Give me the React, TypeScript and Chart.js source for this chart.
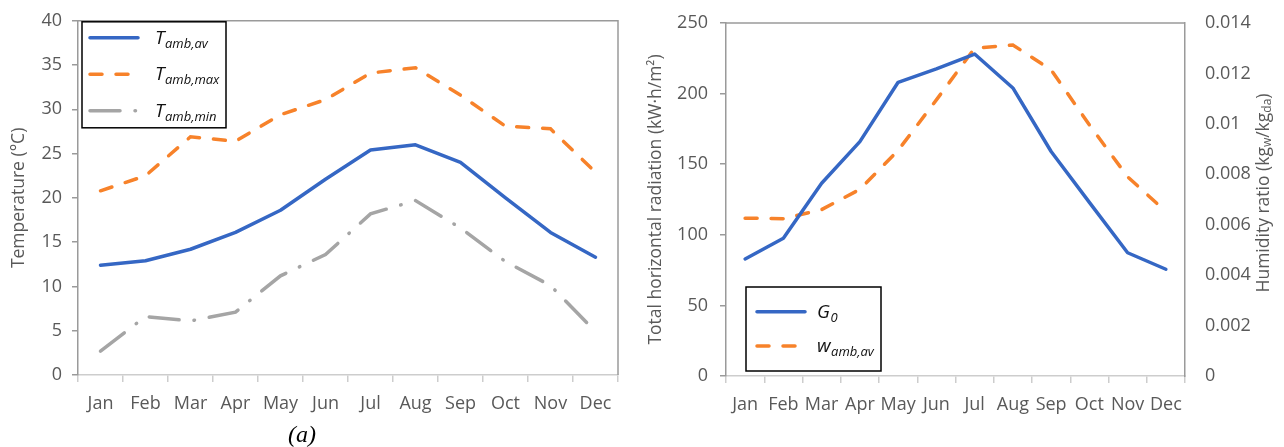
import React, { useEffect, useRef } from 'react';
import { Chart, registerables } from 'chart.js';

Chart.register(...registerables);

const FONT = '"Open Sans", "Liberation Sans", sans-serif';
const TEXT = '#595959';
const AXIS_DARK = '#9a9a9a';
const AXIS_LIGHT = '#cdcdcd';
const BLUE = '#3567c4';
const ORANGE = '#f7822a';
const GRAY = '#a5a5a5';

// Monthly climate data
const months = ['Jan', 'Feb', 'Mar', 'Apr', 'May', 'Jun', 'Jul', 'Aug', 'Sep', 'Oct', 'Nov', 'Dec'];
const tempAvg = [12.4, 12.9, 14.2, 16.1, 18.6, 22.1, 25.4, 26.0, 24.0, 20.0, 16.1, 13.3];
const tempMax = [20.8, 22.5, 26.9, 26.4, 29.4, 31.1, 34.1, 34.7, 31.6, 28.1, 27.8, 22.9];
const tempMin = [2.7, 6.6, 6.1, 7.1, 11.2, 13.6, 18.2, 19.7, 16.6, 12.8, 10.1, 4.9];
const radiation = [82.9, 97.5, 136.5, 166, 208, 217.5, 228, 204, 159, 123, 87.3, 75.6];
const humidity = [0.00626, 0.00624, 0.0066, 0.0074, 0.00895, 0.01095, 0.013, 0.01313, 0.01214, 0.00996, 0.0079, 0.00652];

// Axis tick values
const tempTicks = { min: 0, max: 40, step: 5 };
const radTicks = { min: 0, max: 250, step: 50 };
const humTicks = { min: 0, max: 0.014, step: 0.002 };

// Top and right edges of the plot area
const plotFrame = {
  id: 'plotFrame',
  afterDraw(chart: any, _args: any, opts: any) {
    const { ctx, chartArea: a } = chart;
    ctx.save();
    ctx.strokeStyle = opts.color || AXIS_DARK;
    ctx.lineWidth = opts.width || 1.5;
    ctx.beginPath();
    ctx.moveTo(a.left, a.top);
    ctx.lineTo(a.right, a.top);
    if (opts.right !== false) ctx.lineTo(a.right, a.bottom);
    ctx.stroke();
    ctx.restore();
  },
};

// Boxed legend with italic symbols and subscripts
const legendBox = {
  id: 'legendBox',
  afterDraw(chart: any, _args: any, opts: any) {
    if (!opts.items) return;
    const { ctx, chartArea: a } = chart;
    const x = a.left + opts.dx;
    const y = a.top + opts.dy;
    ctx.save();
    ctx.fillStyle = '#fff';
    ctx.fillRect(x, y, opts.w, opts.h);
    ctx.strokeStyle = '#000';
    ctx.lineWidth = 1.5;
    ctx.strokeRect(x, y, opts.w, opts.h);
    opts.items.forEach((it: any, i: number) => {
      const ds = chart.data.datasets[it.dataset];
      const cy = y + opts.firstRow + i * opts.rowGap;
      ctx.strokeStyle = ds.borderColor;
      ctx.lineWidth = ds.borderWidth;
      ctx.lineCap = ds.borderCapStyle || 'butt';
      ctx.setLineDash(ds.borderDash || []);
      ctx.beginPath();
      ctx.moveTo(x + opts.lineStart, cy);
      ctx.lineTo(x + opts.lineStart + opts.lineLen, cy);
      ctx.stroke();
      ctx.setLineDash([]);
      ctx.fillStyle = '#111';
      ctx.textBaseline = 'alphabetic';
      ctx.textAlign = 'left';
      const tx = x + opts.textStart;
      const by = cy + opts.baseline;
      ctx.font = `italic ${opts.size}px ${FONT}`;
      ctx.fillText(it.main, tx, by);
      const mw = ctx.measureText(it.main).width;
      ctx.font = `italic ${opts.subSize}px ${FONT}`;
      ctx.fillText(it.sub, tx + mw + 0.5, by + opts.subDrop);
    });
    ctx.restore();
  },
};

// Rotated right-hand axis title with subscripts
const sideTitle = {
  id: 'sideTitle',
  afterDraw(chart: any, _args: any, opts: any) {
    if (!opts.parts) return;
    const { ctx, chartArea: a } = chart;
    ctx.save();
    ctx.translate(a.right + opts.dx, (a.top + a.bottom) / 2 + opts.dy);
    ctx.rotate(-Math.PI / 2);
    ctx.fillStyle = opts.color;
    ctx.textBaseline = 'middle';
    ctx.textAlign = 'left';
    const fontOf = (p: any) => `${p.sub ? opts.subSize : opts.size}px ${FONT}`;
    const widths = opts.parts.map((p: any) => {
      ctx.font = fontOf(p);
      return ctx.measureText(p.text).width;
    });
    const total = widths.reduce((s: number, w: number) => s + w, 0);
    let px = -total / 2;
    opts.parts.forEach((p: any, i: number) => {
      ctx.font = fontOf(p);
      ctx.fillText(p.text, px, p.sub ? opts.subDrop : 0);
      px += widths[i];
    });
    ctx.restore();
  },
};

const tickFont = { family: FONT, size: 18 };
const titleFont = { family: FONT, size: 17.5 };

function xAxis(height: number) {
  return {
    type: 'category' as const,
    offset: true,
    grid: { offset: true, drawOnChartArea: false, tickLength: 7, color: AXIS_LIGHT, lineWidth: 1.5 },
    border: { color: AXIS_LIGHT, width: 1.5 },
    ticks: { color: TEXT, font: tickFont, padding: 11, maxRotation: 0, autoSkip: false },
    afterFit: (s: any) => {
      s.height = height;
    },
  };
}

function TemperatureChart() {
  const ref = useRef<HTMLCanvasElement>(null);
  useEffect(() => {
    if (!ref.current) return;
    const chart = new Chart(ref.current, {
      type: 'line',
      data: {
        labels: months,
        datasets: [
          {
            label: 'T amb,av',
            data: tempAvg,
            borderColor: BLUE,
            borderWidth: 3.5,
            borderCapStyle: 'round',
            borderJoinStyle: 'round',
            tension: 0,
            pointRadius: 0,
          },
          {
            label: 'T amb,max',
            data: tempMax,
            borderColor: ORANGE,
            borderWidth: 3.5,
            borderDash: [12, 14],
            borderCapStyle: 'round',
            tension: 0,
            pointRadius: 0,
          },
          {
            label: 'T amb,min',
            data: tempMin,
            borderColor: GRAY,
            borderWidth: 3.5,
            borderDash: [30, 15, 0.5, 15],
            borderCapStyle: 'round',
            tension: 0,
            pointRadius: 0,
          },
        ],
      },
      options: {
        animation: false,
        responsive: false,
        devicePixelRatio: 1,
        layout: { padding: { top: 20, right: 22, left: 0, bottom: 0 } },
        scales: {
          x: xAxis(72),
          y: {
            min: tempTicks.min,
            max: tempTicks.max,
            ticks: { stepSize: tempTicks.step, color: TEXT, font: tickFont, padding: 10 },
            grid: { drawOnChartArea: false, tickLength: 6, color: AXIS_DARK, lineWidth: 1.5 },
            border: { color: AXIS_DARK, width: 1.5 },
            title: {
              display: true,
              text: 'Temperature (°C)',
              color: TEXT,
              font: titleFont,
              padding: { top: 9, bottom: 0 },
            },
            afterFit: (s: any) => {
              s.width = 78;
            },
          },
        },
        plugins: {
          legend: { display: false },
          tooltip: { enabled: false },
          plotFrame: { color: AXIS_DARK, width: 1.5 },
          legendBox: {
            dx: 4,
            dy: 1,
            w: 144,
            h: 106,
            firstRow: 16,
            rowGap: 36.5,
            lineStart: 8,
            lineLen: 48,
            textStart: 73,
            baseline: 6,
            size: 19,
            subSize: 13,
            subDrop: 4,
            items: [
              { dataset: 0, main: 'T', sub: 'amb,av' },
              { dataset: 1, main: 'T', sub: 'amb,max' },
              { dataset: 2, main: 'T', sub: 'amb,min' },
            ],
          },
        } as any,
      },
      plugins: [plotFrame, legendBox],
    });
    return () => chart.destroy();
  }, []);
  return <canvas ref={ref} width={640} height={447} style={{ display: 'block' }} />;
}

function SolarChart() {
  const ref = useRef<HTMLCanvasElement>(null);
  useEffect(() => {
    if (!ref.current) return;
    const chart = new Chart(ref.current, {
      type: 'line',
      data: {
        labels: months,
        datasets: [
          {
            label: 'G0',
            data: radiation,
            yAxisID: 'y',
            borderColor: BLUE,
            borderWidth: 3.5,
            borderCapStyle: 'round',
            borderJoinStyle: 'round',
            tension: 0,
            pointRadius: 0,
          },
          {
            label: 'w amb,av',
            data: humidity,
            yAxisID: 'y1',
            borderColor: ORANGE,
            borderWidth: 3.5,
            borderDash: [12, 14],
            borderCapStyle: 'round',
            tension: 0,
            pointRadius: 0,
          },
        ],
      },
      options: {
        animation: false,
        responsive: false,
        devicePixelRatio: 1,
        layout: { padding: { top: 23, right: 0, left: 0, bottom: 0 } },
        scales: {
          x: xAxis(71),
          y: {
            position: 'left',
            min: radTicks.min,
            max: radTicks.max,
            ticks: { stepSize: radTicks.step, color: TEXT, font: tickFont, padding: 12 },
            grid: { drawOnChartArea: false, tickLength: 6, color: AXIS_DARK, lineWidth: 1.5 },
            border: { color: AXIS_DARK, width: 1.5 },
            title: {
              display: true,
              text: 'Total horizontal radiation (kW·h/m²)',
              color: TEXT,
              font: titleFont,
              padding: { top: 6, bottom: 0 },
            },
            afterFit: (s: any) => {
              s.width = 86;
            },
          },
          y1: {
            position: 'right',
            min: humTicks.min,
            max: humTicks.max,
            ticks: {
              stepSize: humTicks.step,
              color: TEXT,
              font: tickFont,
              padding: 0,
              callback: (v: any) => String(Number(Number(v).toFixed(3))),
            },
            // invisible tick marks keep the labels clear of the axis line
            grid: { drawOnChartArea: false, drawTicks: true, tickLength: 20, color: 'rgba(0,0,0,0)' },
            border: { color: AXIS_DARK, width: 1.5 },
            afterFit: (s: any) => {
              s.width = 99;
            },
          },
        },
        plugins: {
          legend: { display: false },
          tooltip: { enabled: false },
          plotFrame: { color: AXIS_DARK, width: 1.5, right: false },
          legendBox: {
            dx: 20,
            dy: 264,
            w: 135,
            h: 84,
            firstRow: 24.7,
            rowGap: 34.3,
            lineStart: 11,
            lineLen: 48,
            textStart: 71,
            baseline: 6,
            size: 19,
            subSize: 13,
            subDrop: 4,
            items: [
              { dataset: 0, main: 'G', sub: '0' },
              { dataset: 1, main: 'w', sub: 'amb,av' },
            ],
          },
          sideTitle: {
            dx: 79,
            dy: -6.5,
            size: 17.5,
            subSize: 12,
            subDrop: 4,
            color: TEXT,
            parts: [
              { text: 'Humidity ratio (kg' },
              { text: 'w', sub: true },
              { text: '/kg' },
              { text: 'da', sub: true },
              { text: ')' },
            ],
          },
        } as any,
      },
      plugins: [plotFrame, legendBox, sideTitle],
    });
    return () => chart.destroy();
  }, []);
  return <canvas ref={ref} width={644} height={447} style={{ display: 'block' }} />;
}

export default function App() {
  return (
    <div
      style={{
        position: 'fixed',
        left: 0,
        top: 0,
        width: 1284,
        height: 447,
        background: '#fff',
        overflow: 'hidden',
      }}
    >
      <div style={{ position: 'absolute', left: 0, top: 0 }}>
        <TemperatureChart />
      </div>
      <div style={{ position: 'absolute', left: 640, top: 0 }}>
        <SolarChart />
      </div>
      <div
        style={{
          position: 'absolute',
          left: 288,
          top: 422,
          fontFamily: '"Liberation Serif", "Times New Roman", serif',
          fontStyle: 'italic',
          fontSize: 24,
          lineHeight: '24px',
          color: '#000',
        }}
      >
        (a)
      </div>
    </div>
  );
}
